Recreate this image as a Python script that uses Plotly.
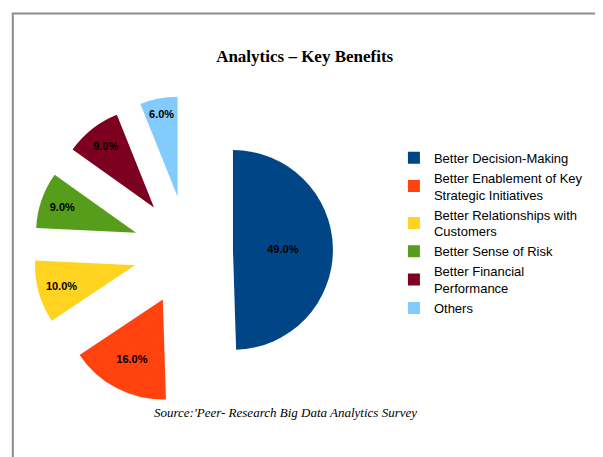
import plotly.graph_objects as go

labels = ["Better Decision-Making", "Better Enablement of Key<br>Strategic Initiatives",
          "Better Relationships with<br>Customers", "Better Sense of Risk",
          "Better Financial<br>Performance", "Others"]
values = [49.0, 16.0, 10.0, 9.0, 9.0, 6.0]
colors = ["#004586", "#ff420e", "#ffd320", "#579d1c", "#7e0021", "#83caff"]
pulls = [0.45, 0.55, 0.55, 0.55, 0.55, 0.55]

fig = go.Figure(go.Pie(
    labels=labels, values=values, marker=dict(colors=colors),
    sort=False, direction="clockwise", rotation=0,
    pull=pulls, texttemplate="<b>%{value:.1f}%</b>", textposition="inside",
    insidetextorientation="horizontal",
    textfont=dict(family="Liberation Sans", size=11, color="black"),
    domain=dict(x=[0.041, 0.556], y=[0.13, 0.808]),
    hoverinfo="label+percent",
))
fig.update_layout(
    width=603, height=457, margin=dict(l=0, r=0, t=0, b=0),
    paper_bgcolor="white",
    title=dict(text="<b>Analytics – Key Benefits</b>", x=0.492, y=0.895, yanchor="middle",
               xanchor="center", font=dict(family="Liberation Serif", size=17, color="black")),
    legend=dict(x=0.64, y=0.705, xanchor="left", yanchor="top",
                font=dict(family="Liberation Sans", size=13, color="black"),
                itemwidth=30, tracegroupgap=0),
    annotations=[dict(text="<i>Source:'Peer- Research Big Data Analytics Survey</i>",
                      x=0.46, y=0.093, xref="paper", yref="paper", showarrow=False,
                      font=dict(family="Liberation Serif", size=13, color="black"))],
    shapes=[dict(type="rect", xref="paper", yref="paper", x0=0.008, x1=0.982, y0=0.015, y1=0.988,
                 line=dict(color="#8c8c8c", width=2))],
)
fig.write_html("out.html")
